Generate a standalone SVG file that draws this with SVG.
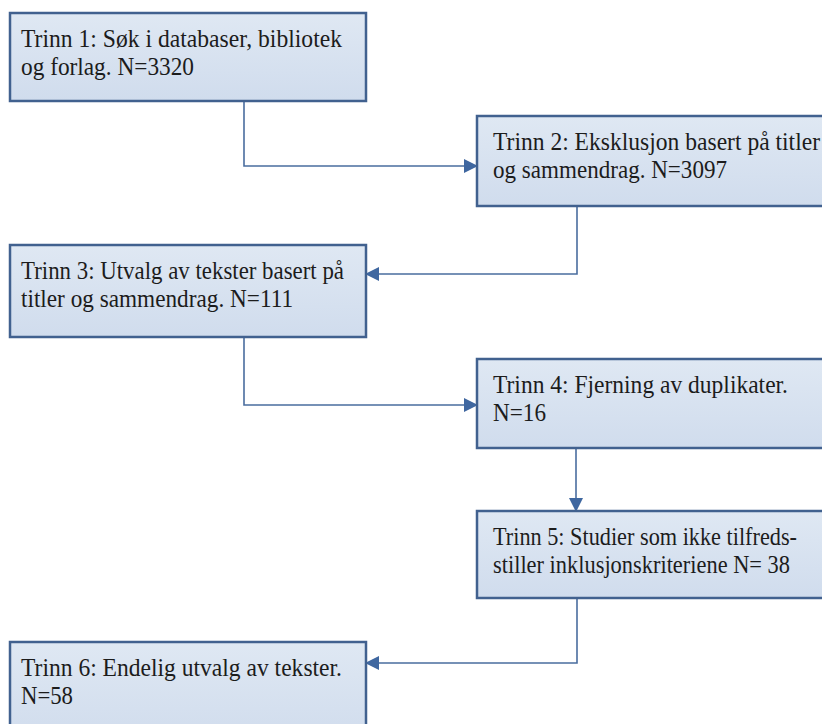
<svg xmlns="http://www.w3.org/2000/svg" width="822" height="724" viewBox="0 0 822 724">
<defs>
<linearGradient id="bg" x1="0" y1="0" x2="0" y2="1">
<stop offset="0" stop-color="#dfe8f3"/>
<stop offset="1" stop-color="#d0dced"/>
</linearGradient>
<marker id="ah" markerUnits="userSpaceOnUse" markerWidth="14" markerHeight="14" viewBox="0 0 14 14" refX="13" refY="7" orient="auto">
<path d="M0,0 L14,7 L0,14 Z" fill="#3f67a0"/>
</marker>
</defs>
<style>
.box{fill:url(#bg);stroke:#41618f;stroke-width:2.5}
.t{font-family:"Liberation Serif","Times New Roman",serif;font-size:26px;fill:#1c1c1c}
.c{fill:none;stroke:#4a6d9f;stroke-width:1.6;marker-end:url(#ah)}
</style>
<rect width="822" height="724" fill="#ffffff"/>
<g id="connectors">
<path class="c" d="M244,102 V166 H477"/>
<path class="c" d="M577,207 V274 H366"/>
<path class="c" d="M244,338 V405 H477"/>
<path class="c" d="M576,449 V511"/>
<path class="c" d="M577,599 V663 H366"/>
</g>
<g id="n1">
<rect class="box" x="10" y="13" width="356" height="88"/>
<text class="t" x="21" y="47" textLength="321" lengthAdjust="spacingAndGlyphs">Trinn 1: Søk i databaser, bibliotek</text>
<text class="t" x="21" y="75" textLength="173" lengthAdjust="spacingAndGlyphs">og forlag. N=3320</text>
</g>
<g id="n2">
<rect class="box" x="477" y="116" width="370" height="90"/>
<text class="t" x="493" y="150" textLength="327" lengthAdjust="spacingAndGlyphs">Trinn 2: Eksklusjon basert på titler</text>
<text class="t" x="493" y="178" textLength="234" lengthAdjust="spacingAndGlyphs">og sammendrag. N=3097</text>
</g>
<g id="n3">
<rect class="box" x="10" y="245" width="356" height="92"/>
<text class="t" x="21" y="279" textLength="323" lengthAdjust="spacingAndGlyphs">Trinn 3: Utvalg av tekster basert på</text>
<text class="t" x="21" y="307" textLength="272" lengthAdjust="spacingAndGlyphs">titler og sammendrag. N=111</text>
</g>
<g id="n4">
<rect class="box" x="477" y="359" width="370" height="89"/>
<text class="t" x="493" y="393" textLength="295" lengthAdjust="spacingAndGlyphs">Trinn 4: Fjerning av duplikater.</text>
<text class="t" x="493" y="421" textLength="53" lengthAdjust="spacingAndGlyphs">N=16</text>
</g>
<g id="n5">
<rect class="box" x="477" y="511" width="370" height="87"/>
<text class="t" x="493" y="545" textLength="304" lengthAdjust="spacingAndGlyphs">Trinn 5: Studier som ikke tilfreds-</text>
<text class="t" x="493" y="573" textLength="297" lengthAdjust="spacingAndGlyphs">stiller inklusjonskriteriene N= 38</text>
</g>
<g id="n6">
<rect class="box" x="10" y="642" width="356" height="100"/>
<text class="t" x="21" y="676" textLength="321" lengthAdjust="spacingAndGlyphs">Trinn 6: Endelig utvalg av tekster.</text>
<text class="t" x="21" y="704" textLength="52" lengthAdjust="spacingAndGlyphs">N=58</text>
</g>
</svg>
